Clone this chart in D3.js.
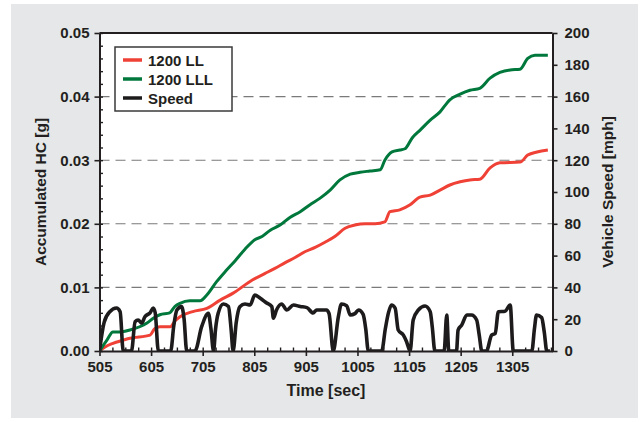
<!DOCTYPE html>
<html>
<head>
<meta charset="utf-8">
<script src="https://cdn.jsdelivr.net/npm/d3@7/dist/d3.min.js"></script>
<style>
  html, body { margin: 0; padding: 0; background: #ffffff; }
  svg { display: block; }
  text { font-family: "Liberation Sans", Arial, Helvetica, sans-serif; font-weight: bold; fill: #231f20; }
</style>
</head>
<body>
<svg id="chart" width="642" height="422"></svg>
<script>
// Accumulated HC for two catalyst configurations plus the drive trace (bag 2).
const llTime = [505, 515, 531, 551, 564, 603, 612, 622, 642, 652, 661, 686, 713, 739, 764, 802, 826, 845, 865, 884, 903, 923, 942, 961, 981, 1000, 1020, 1039, 1058, 1068, 1087, 1107, 1126, 1146, 1165, 1184, 1204, 1223, 1242, 1262, 1281, 1320, 1335, 1353, 1374];
const llHC   = [0, 0.0006, 0.0012, 0.0017, 0.0020, 0.0025, 0.0035, 0.0038, 0.0038, 0.0048, 0.0054, 0.0062, 0.0067, 0.0080, 0.0091, 0.0112, 0.0122, 0.0130, 0.0139, 0.0147, 0.0156, 0.0163, 0.0171, 0.0180, 0.0193, 0.0198, 0.0200, 0.0200, 0.0203, 0.0219, 0.0222, 0.0230, 0.0242, 0.0245, 0.0253, 0.0261, 0.0266, 0.0269, 0.0270, 0.0288, 0.0296, 0.0297, 0.0308, 0.0313, 0.0316];

const lllTime = [505, 520, 531, 545, 564, 597, 610, 622, 641, 651, 661, 680, 700, 713, 732, 750, 768, 787, 806, 820, 836, 855, 874, 894, 913, 932, 952, 971, 991, 1010, 1029, 1049, 1058, 1072, 1087, 1097, 1111, 1126, 1146, 1165, 1184, 1204, 1223, 1242, 1262, 1281, 1301, 1320, 1335, 1349, 1374];
const lllHC   = [0, 0.0018, 0.0030, 0.0030, 0.0033, 0.0044, 0.0052, 0.0057, 0.0060, 0.0070, 0.0075, 0.0079, 0.0079, 0.0088, 0.0109, 0.0126, 0.0142, 0.0160, 0.0175, 0.0180, 0.0190, 0.0198, 0.0210, 0.0219, 0.0230, 0.0240, 0.0253, 0.0269, 0.0278, 0.0281, 0.0283, 0.0285, 0.0300, 0.0313, 0.0316, 0.0318, 0.0335, 0.0347, 0.0363, 0.0376, 0.0395, 0.0404, 0.0410, 0.0413, 0.0429, 0.0438, 0.0442, 0.0443, 0.0460, 0.0465, 0.0465];

const speedTime = [505, 514, 525, 538, 545, 551, 567, 574, 580, 587, 593, 603, 609, 613, 619, 643, 649, 655, 664, 669, 674, 690, 703, 716, 721, 726, 730, 735, 745, 755, 760, 764, 770, 777, 787, 797, 806, 816, 829, 839, 842, 848, 858, 868, 881, 894, 907, 919, 926, 945, 950, 958, 968, 974, 984, 991, 1000, 1007, 1016, 1021, 1026, 1052, 1059, 1065, 1071, 1078, 1084, 1094, 1100, 1107, 1113, 1123, 1136, 1146, 1150, 1155, 1173, 1178, 1182, 1197, 1200, 1207, 1217, 1226, 1236, 1241, 1246, 1255, 1265, 1272, 1278, 1291, 1301, 1307, 1343, 1348, 1352, 1362, 1367, 1372, 1378];
const speedMph  = [0, 18, 24.7, 27, 24.7, 0, 0, 18.4, 19.5, 17.6, 21.6, 24, 27, 24, 0, 0, 16, 25.8, 27.9, 20, 0, 0, 15.3, 23.7, 14, 0, 14, 23.7, 29.6, 28, 14, 0, 18, 27.9, 29.6, 29, 35.2, 33.3, 30.2, 27.9, 20.7, 25.8, 29.6, 25.8, 28.9, 28, 27.3, 23.9, 25.8, 25.8, 23.5, 0, 21.6, 29.6, 28.5, 22.6, 23.5, 25.8, 23, 14, 0, 0, 14, 24, 28.9, 27, 13.2, 10, 6, 0, 19.5, 25.8, 28.3, 24.7, 15, 0, 0, 22.6, 0, 0, 13.2, 16.3, 22.6, 22.6, 19.5, 10, 0, 0, 10, 11, 24.7, 25, 28.9, 0, 0, 14, 22.6, 21, 12, 0, 0];

const timeTicks = [505, 605, 705, 805, 905, 1005, 1105, 1205, 1305];
const hcTicks = [0, 0.01, 0.02, 0.03, 0.04, 0.05];
const speedTicks = [0, 20, 40, 60, 80, 100, 120, 140, 160, 180, 200];

const seriesNames = ["1200 LL", "1200 LLL", "Speed"];
const seriesColors = ["#ef4136", "#00783c", "#1d1b1c"];

const svg = d3.select("#chart");

// grey panel behind the chart
svg.append("rect").attr("x", 11).attr("y", 4).attr("width", 627).attr("height", 414).attr("fill", "#e6e7e8");

const pLeft = 99.5, pRight = 552.5, pTop = 33, pBottom = 351;

const x = d3.scaleLinear().domain([505, 1383]).range([pLeft, pRight]);
const yHC = d3.scaleLinear().domain([0, 0.05]).range([pBottom, pTop]);
const ySpd = d3.scaleLinear().domain([0, 200]).range([pBottom, pTop]);

// plot area
svg.append("rect").attr("x", pLeft).attr("y", pTop).attr("width", pRight - pLeft).attr("height", pBottom - pTop).attr("fill", "#ffffff");

// dashed horizontal grid at interior major HC ticks
svg.append("g").selectAll("line")
  .data(hcTicks.filter(d => d > 0 && d < 0.05))
  .join("line")
  .attr("x1", pLeft).attr("x2", pRight)
  .attr("y1", d => yHC(d)).attr("y2", d => yHC(d))
  .attr("stroke", "#7a7a7a").attr("stroke-width", 1.1)
  .attr("stroke-dasharray", "10,6");

// data lines
svg.append("clipPath").attr("id", "plotClip")
  .append("rect").attr("x", pLeft).attr("y", pTop - 2).attr("width", pRight - pLeft).attr("height", pBottom - pTop + 2);

const lineHC = d3.line().x(d => x(d[0])).y(d => yHC(d[1])).curve(d3.curveMonotoneX);
const lineSpd = d3.line().x(d => x(d[0])).y(d => ySpd(d[1])).curve(d3.curveMonotoneX);

const plot = svg.append("g").attr("clip-path", "url(#plotClip)");
plot.append("path").datum(d3.zip(llTime, llHC)).attr("d", lineHC)
  .attr("fill", "none").attr("stroke", seriesColors[0]).attr("stroke-width", 3).attr("stroke-linejoin", "round");
plot.append("path").datum(d3.zip(lllTime, lllHC)).attr("d", lineHC)
  .attr("fill", "none").attr("stroke", seriesColors[1]).attr("stroke-width", 3).attr("stroke-linejoin", "round");
plot.append("path").datum(d3.zip(speedTime, speedMph)).attr("d", lineSpd)
  .attr("fill", "none").attr("stroke", seriesColors[2]).attr("stroke-width", 3.6).attr("stroke-linejoin", "round");

// frame: top edge
svg.append("line").attr("x1", pLeft).attr("x2", pRight).attr("y1", pTop).attr("y2", pTop)
  .attr("stroke", "#231f20").attr("stroke-width", 2);

function styleAxis(g) {
  g.selectAll(".domain").attr("stroke", "#231f20").attr("stroke-width", 2);
  g.selectAll(".tick line").attr("stroke", "#231f20").attr("stroke-width", 1.6);
  g.selectAll("text").attr("font-size", 15).attr("font-weight", "bold")
    .attr("font-family", "'Liberation Sans', Arial, sans-serif").attr("fill", "#231f20");
}

// minor ticks (inward)
const minorHC = d3.range(0, 0.0501, 0.002);
svg.append("g").attr("transform", `translate(${pLeft},0)`)
  .call(d3.axisLeft(yHC).tickValues(minorHC).tickSize(-3.5).tickFormat(""))
  .call(g => { g.select(".domain").remove(); g.selectAll(".tick line").attr("stroke", "#231f20").attr("stroke-width", 1.4); });
const minorT = d3.range(505, 1383, 25);
svg.append("g").attr("transform", `translate(0,${pBottom})`)
  .call(d3.axisBottom(x).tickValues(minorT).tickSize(-3.5).tickFormat(""))
  .call(g => { g.select(".domain").remove(); g.selectAll(".tick line").attr("stroke", "#231f20").attr("stroke-width", 1.4); });

// left axis
svg.append("g").attr("transform", `translate(${pLeft},0)`)
  .call(d3.axisLeft(yHC).tickValues(hcTicks).tickSize(5).tickSizeOuter(0).tickPadding(5).tickFormat(d3.format(".2f")))
  .call(styleAxis);

// right axis
svg.append("g").attr("transform", `translate(${pRight},0)`)
  .call(d3.axisRight(ySpd).tickValues(speedTicks).tickSize(5).tickSizeOuter(0).tickPadding(7).tickFormat(d3.format("d")))
  .call(styleAxis);

// bottom axis
svg.append("g").attr("transform", `translate(0,${pBottom})`)
  .call(d3.axisBottom(x).tickValues(timeTicks).tickSize(5).tickSizeOuter(0).tickPadding(5).tickFormat(d3.format("d")))
  .call(styleAxis);

// axis titles
svg.append("text").attr("x", (pLeft + pRight) / 2).attr("y", 396).attr("text-anchor", "middle")
  .attr("font-size", 16).text("Time [sec]");
svg.append("text").attr("transform", `translate(46,${(pTop + pBottom) / 2}) rotate(-90)`)
  .attr("text-anchor", "middle").attr("font-size", 15.5).text("Accumulated HC [g]");
svg.append("text").attr("transform", `translate(613,${(pTop + pBottom) / 2}) rotate(-90)`)
  .attr("text-anchor", "middle").attr("font-size", 15.5).text("Vehicle Speed [mph]");

// legend
const legend = svg.append("g");
legend.append("rect").attr("x", 115).attr("y", 47).attr("width", 117).attr("height", 64)
  .attr("fill", "#ffffff").attr("stroke", "#3a3a3a").attr("stroke-width", 1.5);
seriesNames.forEach((name, i) => {
  const yy = 60 + i * 19;
  legend.append("line").attr("x1", 123).attr("x2", 142).attr("y1", yy).attr("y2", yy)
    .attr("stroke", seriesColors[i]).attr("stroke-width", 3.5);
  legend.append("text").attr("x", 148).attr("y", yy + 5.5).attr("font-size", 15).text(name);
});
</script>
</body>
</html>
